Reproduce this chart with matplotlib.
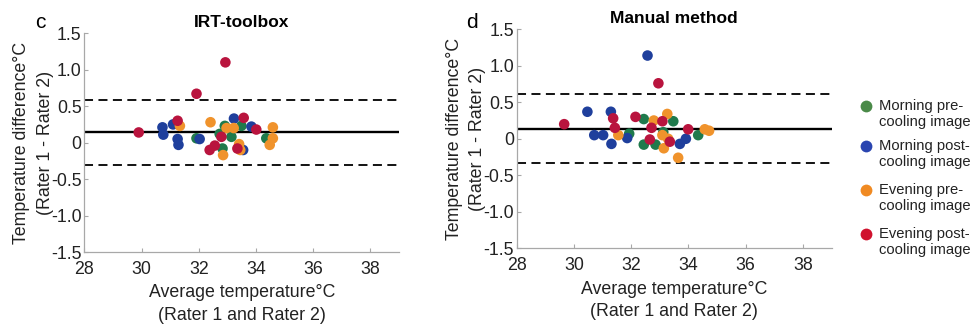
#!/usr/bin/env python3
"""Bland-Altman plots of inter-rater agreement: IRT-toolbox vs manual method."""
import matplotlib

matplotlib.use("Agg")
import matplotlib.pyplot as plt
from matplotlib.lines import Line2D

plt.rcParams["font.family"] = ["Liberation Sans", "DejaVu Sans"]
plt.rcParams["axes.unicode_minus"] = False

GROUPS = ["Morning pre-\ncooling image", "Morning post-\ncooling image",
          "Evening pre-\ncooling image", "Evening post-\ncooling image"]
COLORS = ["#1f7a4c", "#1f3f9c", "#f0932c", "#b9143e"]
LEGEND_COLORS = ["#4a8a48", "#2a45b0", "#f08a22", "#d0122e"]

# IRT-toolbox: (mean of raters, rater1 - rater2) per group
irt_x = [
    [31.92, 32.73, 32.91, 32.83, 33.14, 33.49, 34.36],
    [30.73, 30.76, 31.10, 31.26, 31.29, 32.03, 33.23, 33.84, 33.55],
    [31.34, 32.41, 32.85, 32.97, 33.22, 33.41, 33.45, 34.48, 34.59, 34.59],
    [29.90, 32.93, 31.92, 31.26, 33.57, 34.01, 32.38, 32.56, 32.79, 33.35],
]
irt_y = [
    [0.06, 0.12, 0.23, -0.08, 0.08, 0.23, 0.06],
    [0.21, 0.11, 0.25, 0.05, -0.03, 0.05, 0.33, 0.22, -0.10],
    [0.23, 0.28, -0.17, 0.20, 0.20, -0.02, -0.10, -0.03, 0.21, 0.06],
    [0.14, 1.10, 0.67, 0.30, 0.34, 0.18, -0.10, -0.04, 0.08, -0.08],
]
irt_mean, irt_lo, irt_hi = 0.14, -0.31, 0.59

# Manual method
man_x = [
    [31.93, 32.44, 32.44, 32.85, 33.12, 33.47, 34.34],
    [32.57, 30.47, 31.29, 30.71, 31.02, 31.31, 31.86, 33.70, 33.91],
    [31.55, 32.79, 33.09, 33.26, 33.29, 33.14, 33.64, 34.57, 34.72],
    [29.66, 32.95, 31.37, 31.43, 32.15, 32.71, 32.65, 33.09, 33.35, 33.99],
]
man_y = [
    [0.07, 0.27, -0.08, -0.08, 0.09, 0.24, 0.05],
    [1.14, 0.37, 0.37, 0.05, 0.05, -0.07, 0.01, -0.07, 0.00],
    [0.05, 0.25, 0.05, 0.34, 0.00, -0.13, -0.26, 0.13, 0.11],
    [0.20, 0.76, 0.28, 0.15, 0.30, 0.15, -0.01, 0.24, -0.04, 0.13],
]
man_mean, man_lo, man_hi = 0.14, -0.33, 0.61

YTICKS = [-1.5, -1.0, -0.5, 0, 0.5, 1.0, 1.5]
YTICKLABELS = ["-1.5", "-1.0", "-0.5", "0", "0.5", "1.0", "1.5"]
XTICKS = [28, 30, 32, 34, 36, 38]


def draw_panel(ax, xs, ys, mean, lo, hi, title):
    for gx, gy, c in zip(xs, ys, COLORS):
        ax.scatter(gx, gy, s=58, color=c, edgecolors="none", zorder=3)
    ax.axhline(mean, color="black", lw=1.7, zorder=2)
    for v in (lo, hi):
        ax.axhline(v, color="black", lw=1.3, ls=(0, (5, 3)), zorder=2)
    ax.set_xlim(28, 39)
    ax.set_ylim(-1.5, 1.5)
    ax.set_xticks(XTICKS)
    ax.set_yticks(YTICKS)
    ax.set_yticklabels(YTICKLABELS)
    for s in ("top", "right"):
        ax.spines[s].set_visible(False)
    for s in ("left", "bottom"):
        ax.spines[s].set_color("#a8a8a8")
        ax.spines[s].set_linewidth(0.9)
    ax.tick_params(direction="in", length=3, color="#a8a8a8",
                   labelsize=12.8, labelcolor="#222222")
    ax.tick_params(axis="x", pad=6)
    ax.tick_params(axis="y", pad=2)
    ax.set_xlabel("Average temperature°C\n(Rater 1 and Rater 2)",
                  fontsize=12.8, color="#222222", linespacing=1.4, labelpad=5)
    ax.set_ylabel("Temperature difference°C\n(Rater 1 - Rater 2)",
                  fontsize=12.8, color="#222222", linespacing=1.5, labelpad=-2)
    ax.set_title(title, fontsize=12.5, fontweight="bold", pad=4.5)


fig = plt.figure(figsize=(9.73, 3.25), dpi=100)
axL = fig.add_axes([0.0867, 0.224, 0.3234, 0.674])
axR = fig.add_axes([0.531, 0.236, 0.3237, 0.674])

draw_panel(axL, irt_x, irt_y, irt_mean, irt_lo, irt_hi, "IRT-toolbox")
draw_panel(axR, man_x, man_y, man_mean, man_lo, man_hi, "Manual method")

fig.text(40 / 973, 1 - 22 / 325, "c", fontsize=15, ha="center", va="center")
fig.text(472 / 973, 1 - 22 / 325, "d", fontsize=15, ha="center", va="center")

# legend, marker beside the first line of each label
for y_px, lab, c in zip([106, 146, 190, 234], GROUPS, LEGEND_COLORS):
    y0 = 1 - y_px / 325
    fig.add_artist(Line2D([866 / 973], [y0], marker="o", ms=8.5, color=c,
                          markeredgecolor="none", transform=fig.transFigure))
    fig.text(879 / 973, y0 + 7 / 325, lab, fontsize=10.6, color="#222222",
             ha="left", va="top", linespacing=1.2)

fig.savefig("out.png", dpi=100)
